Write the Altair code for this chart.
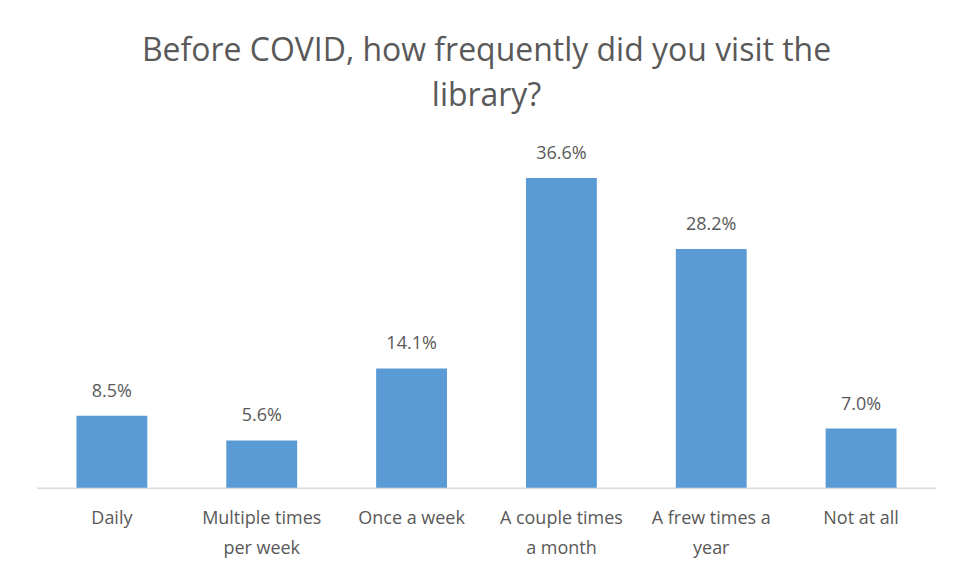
import altair as alt
import pandas as pd

categories = ["Daily", "Multiple times|per week", "Once a week", "A couple times|a month", "A frew times a|year", "Not at all"]
values = [8.5, 5.6, 14.1, 36.6, 28.2, 7.0]
labels = ["8.5%", "5.6%", "14.1%", "36.6%", "28.2%", "7.0%"]

df = pd.DataFrame({"cat": categories, "val": values, "lab": labels})

FONT = "Open Sans"
GRAY = "#595959"

base = alt.Chart(df).encode(
    x=alt.X(
        "cat:N",
        sort=None,
        scale=alt.Scale(paddingInner=0.527, paddingOuter=0.2635),
        axis=alt.Axis(
            title=None,
            labelExpr="split(datum.label, '|')",
            labelAngle=0,
            domainColor="#D9D9D9",
            domainWidth=1.5,
            ticks=False,
            labelPadding=22,
            labelFontSize=18,
            labelColor=GRAY,
            labelLineHeight=30,
            labelFont=FONT,
        ),
    ),
    y=alt.Y("val:Q", scale=alt.Scale(domain=[0, 40]), axis=None),
)

bars = base.mark_bar(color="#5B9BD5")
text = base.mark_text(baseline="alphabetic", dy=-19, fontSize=18, font=FONT, color=GRAY).encode(text="lab:N")

chart = (bars + text).properties(
    width=900,
    height=339,
    padding={"left": 29, "top": 141, "right": 10, "bottom": 80},
    autosize=alt.AutoSizeParams(type="none"),
    title=alt.Title(
        ["Before COVID, how frequently did you visit the", "library?"],
        fontSize=32,
        font=FONT,
        color=GRAY,
        fontWeight="normal",
        lineHeight=45,
        offset=32,
        anchor="middle",
    ),
).configure_view(stroke=None)

chart.save("out.html", embed_options={"renderer": "svg", "actions": False})
